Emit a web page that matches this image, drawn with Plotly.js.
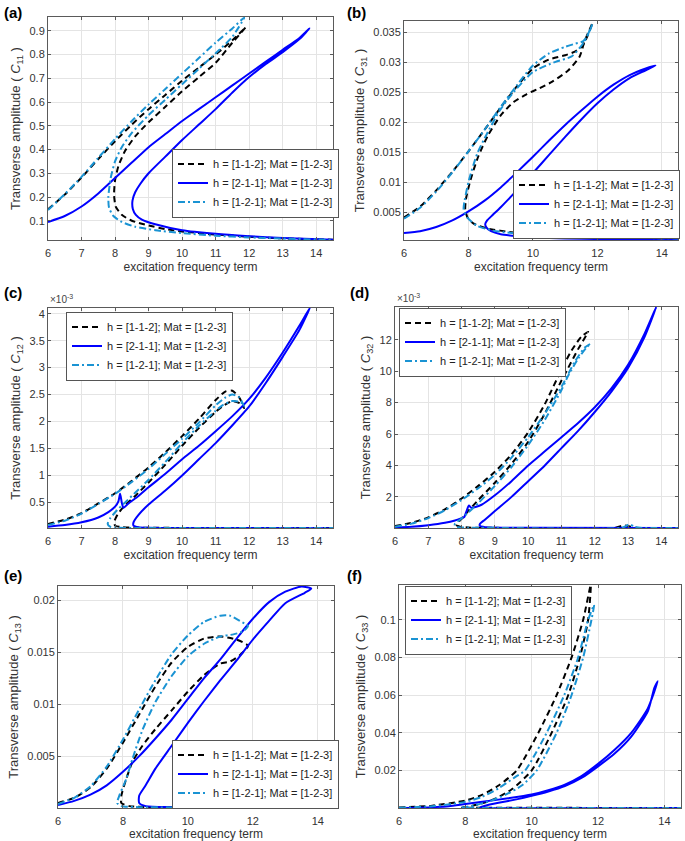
<!DOCTYPE html>
<html><head><meta charset="utf-8">
<script src="https://cdn.plot.ly/plotly-3.0.1.min.js"></script>
<style>html,body{margin:0;padding:0;background:#fff;} #chart{width:685px;height:841px;}</style>
</head><body><div id="chart"></div>
<script>
// ---------- DATA ----------
const seriesNames = ["h = [1-1-2]; Mat = [1-2-3]", "h = [2-1-1]; Mat = [1-2-3]", "h = [1-2-1]; Mat = [1-2-3]"];
const panelLabels = ["(a)", "(b)", "(c)", "(d)", "(e)", "(f)"];
const ySymbols = ["11", "31", "12", "32", "13", "33"];
const xTicksFine = [6, 7, 8, 9, 10, 11, 12, 13, 14];
const xTicksCoarse = [6, 8, 10, 12, 14];
const yTicksA = ["0.1","0.2","0.3","0.4","0.5","0.6","0.7","0.8","0.9"];
const yTicksB = ["0.005","0.01","0.015","0.02","0.025","0.03","0.035"];
const yTicksC = ["0.5","1","1.5","2","2.5","3","3.5","4"];
const yTicksD = ["2","4","6","8","10","12"];
const yTicksE = ["0.005","0.01","0.015","0.02"];
const yTicksF = ["0.02","0.04","0.06","0.08","0.1"];

// (a) C11
const a_x112 = [6,6.5,7,7.5,8,8.5,9,9.5,10,10.5,11,11.5,11.9, 11.5,11,10.5,10,9.5,9,8.6,8.3,8.1,8.0,7.97,8.02,8.2,8.5,9,9.5,10,11,12,13,14.5];
const a_y112 = [0.148,0.21,0.282,0.36,0.435,0.505,0.57,0.63,0.69,0.745,0.80,0.86,0.915, 0.85,0.765,0.705,0.645,0.58,0.515,0.455,0.395,0.33,0.27,0.21,0.16,0.125,0.1,0.08,0.065,0.055,0.042,0.033,0.026,0.02];
const a_x211 = [6,6.5,7,7.5,8,8.5,9,9.5,10,10.5,11,11.5,12,12.5,13,13.5,13.8, 13.5,13,12.5,12,11.5,11,10.5,10,9.5,9,8.75,8.6,8.52,8.53,8.62,8.8,9.2,10,11,12,13,14.5];
const a_y211 = [0.095,0.12,0.16,0.215,0.28,0.345,0.41,0.465,0.52,0.57,0.62,0.67,0.72,0.77,0.82,0.87,0.91, 0.865,0.81,0.76,0.705,0.64,0.57,0.505,0.44,0.37,0.30,0.255,0.22,0.185,0.15,0.125,0.105,0.085,0.06,0.045,0.035,0.027,0.02];
const a_x121 = [6,6.5,7,7.5,8,8.5,9,9.5,10,10.5,11,11.5,11.85, 11.5,11,10.5,10,9.5,9,8.5,8.2,8.0,7.87,7.8,7.82,7.95,8.2,8.6,9.2,10,11,12,13,14.5];
const a_y121 = [0.145,0.212,0.285,0.365,0.445,0.52,0.59,0.655,0.72,0.785,0.85,0.91,0.955, 0.875,0.805,0.74,0.675,0.61,0.545,0.47,0.41,0.35,0.28,0.2,0.155,0.12,0.095,0.075,0.06,0.048,0.037,0.03,0.025,0.019];

// (b) C31
const b_x112 = [6,6.5,7,7.5,8,8.5,9,9.5,10,10.5,11,11.3,11.55,11.7,11.85, 11.6,11.45,11.1,10.6,10.2,9.8,9.4,9.0,8.6,8.3,8.05,7.92,7.9,7.97,8.15,8.55,9.4,10.2,11.2,12.5,14.5];
const b_y112 = [0.0042,0.006,0.0087,0.0118,0.0152,0.0188,0.0225,0.026,0.029,0.0305,0.0312,0.0318,0.0328,0.0345,0.0366, 0.0335,0.031,0.0287,0.0268,0.0257,0.0247,0.0234,0.0212,0.0178,0.0143,0.0102,0.0072,0.0055,0.0042,0.0032,0.0024,0.0017,0.0014,0.0011,0.0009,0.0007];
const b_x211 = [6,6.5,7,7.5,8,8.5,9,9.5,10,10.5,11,11.5,12,12.5,13,13.5,13.8, 13.5,13,12.5,12,11.5,11,10.5,10,9.5,9,8.75,8.58,8.52,8.56,8.7,9,9.5,10,11,12,13,14.5];
const b_y211 = [0.0016,0.0019,0.0026,0.0037,0.0052,0.007,0.0092,0.0117,0.0143,0.017,0.0196,0.022,0.0243,0.0263,0.0279,0.029,0.0295, 0.0287,0.0274,0.0255,0.0232,0.0205,0.0176,0.0146,0.0116,0.0087,0.0059,0.0046,0.0037,0.0031,0.0025,0.0019,0.0014,0.0011,0.0009,0.0007,0.0006,0.0005,0.00045];
const b_x121 = [6,6.5,7,7.5,8,8.5,9,9.5,10,10.5,11,11.3,11.55,11.7,11.85, 11.6,11.2,10.7,10,9.36,8.97,8.57,8.27,8.01,7.88,7.85,7.96,8.27,8.77,10,12,14.5];
const b_y121 = [0.004,0.0058,0.0085,0.0117,0.0152,0.0188,0.0226,0.0262,0.0295,0.0315,0.0326,0.0331,0.0335,0.0345,0.0365, 0.0335,0.031,0.0301,0.0284,0.0248,0.022,0.0181,0.0148,0.0103,0.007,0.0056,0.0042,0.0028,0.002,0.0013,0.0009,0.0007];

// (c) C12, in units of 1e-3
const c_x112 = [6,6.5,7,7.5,8,8.5,9,9.5,10,10.5,11,11.3,11.5,11.7,11.85, 11.75,11.5,11.2,11,10.5,10,9.5,9,8.6,8.3,8.1,7.98,8.0,8.2,8.6,10,14.5];
const c_y112 = [0.1,0.18,0.3,0.48,0.67,0.9,1.15,1.43,1.73,2.05,2.4,2.56,2.57,2.45,2.25, 2.33,2.38,2.28,2.18,1.88,1.55,1.2,0.87,0.62,0.45,0.3,0.15,0.07,0.04,0.03,0.027,0.025];
const c_x211 = [6,6.5,7,7.5,7.8,8.0,8.1,8.15,8.2,8.25,8.4,8.7,9,9.5,10,10.5,11,11.5,12,12.5,13,13.5,13.82, 13.5,13,12.5,12,11.5,11,10.5,10,9.5,9,8.7,8.55,8.55,8.7,9,10,14.5];
const c_y211 = [0.05,0.08,0.13,0.22,0.32,0.42,0.52,0.66,0.5,0.4,0.48,0.62,0.78,1.03,1.3,1.55,1.82,2.1,2.42,2.82,3.28,3.78,4.12, 3.7,3.2,2.72,2.28,1.93,1.6,1.3,1.0,0.72,0.46,0.27,0.13,0.07,0.04,0.03,0.025,0.022];
const c_x121 = [6,6.5,7,7.5,8,8.5,9,9.5,10,10.5,11,11.3,11.5,11.7,11.85, 11.75,11.5,11.2,11,10.5,10,9.5,9,8.6,8.3,8.05,7.85,7.78,7.85,8.1,9,14.5];
const c_y121 = [0.08,0.16,0.29,0.47,0.66,0.88,1.12,1.4,1.68,1.98,2.3,2.45,2.5,2.45,2.28, 2.36,2.38,2.3,2.2,1.92,1.6,1.25,0.92,0.68,0.5,0.35,0.2,0.1,0.05,0.03,0.027,0.025];

// (d) C32, in units of 1e-3
const d_x112 = [6,6.5,7,7.5,8,8.5,9,9.5,10,10.5,11,11.3,11.6,11.8, 11.75,11.5,11.2,11,10.5,10,9.5,9,8.5,8.2,8.0,7.88,7.85,7.95,8.2,9,12.6,12.85,13.0,13.2,14.5];
const d_y112 = [0.15,0.35,0.7,1.2,1.9,2.7,3.6,4.7,6.1,7.9,10.1,11.3,12.2,12.5, 12.3,11.4,10.2,9.4,7.3,5.5,4.1,2.9,1.8,1.1,0.6,0.35,0.2,0.1,0.05,0.03,0.03,0.18,0.15,0.04,0.02];
const d_x211 = [6,6.5,7,7.5,7.8,8.0,8.08,8.15,8.22,8.3,8.6,9,9.5,10,10.5,11,11.5,12,12.5,13,13.5,13.85, 13.5,13,12.5,12,11.5,11,10.5,10,9.5,9,8.7,8.55,8.55,8.7,9,10,14.5];
const d_y211 = [0.05,0.1,0.2,0.35,0.5,0.65,0.72,1.1,1.45,1.3,1.5,2.1,3.0,4.0,4.9,5.8,6.7,7.7,8.9,10.4,12.4,14.1, 12.2,10.2,8.7,7.4,6.2,5.1,4.0,3.0,2.0,1.1,0.55,0.28,0.15,0.07,0.04,0.03,0.02];
const d_x121 = [6,6.5,7,7.5,8,8.5,9,9.5,10,10.5,11,11.4,11.7,11.88, 11.75,11.5,11.2,11,10.5,10,9.5,9,8.5,8.2,7.95,7.8,7.8,7.9,8.2,9,12.8,13.05,13.2,13.35,14.5];
const d_y121 = [0.1,0.3,0.65,1.15,1.8,2.55,3.4,4.5,5.8,7.3,9.0,10.6,11.5,11.75, 11.5,10.8,9.7,8.8,6.9,5.3,3.9,2.7,1.6,1.0,0.55,0.3,0.15,0.07,0.04,0.03,0.03,0.25,0.1,0.03,0.02];

// (e) C13
const e_x112 = [6,6.5,7,7.5,8,8.5,9,9.5,10,10.5,11,11.5,11.85, 11.6,11.3,11,10.5,10,9.5,9,8.6,8.3,8.1,7.95,7.95,8.2,9,14.5];
const e_y112 = [0.0005,0.001,0.002,0.0038,0.0063,0.009,0.0117,0.014,0.0155,0.0163,0.0165,0.0162,0.0156, 0.0147,0.0141,0.0139,0.0128,0.0112,0.0094,0.0076,0.006,0.0045,0.0028,0.0012,0.0005,0.0002,0.0001,0.0001];
const e_x211 = [6,6.5,7,7.5,8,8.5,9,9.5,10,10.5,11,11.5,12,12.5,13,13.5,13.8, 13.6,13,12.5,12,11.5,11,10.5,10,9.5,9,8.7,8.5,8.5,8.7,9.5,14.5];
const e_y211 = [0.0003,0.0007,0.0013,0.0022,0.0035,0.005,0.0067,0.0085,0.0105,0.0125,0.0143,0.0163,0.0182,0.0198,0.0208,0.0213,0.0211, 0.0207,0.0197,0.018,0.0162,0.0142,0.0123,0.0103,0.0082,0.006,0.0038,0.0022,0.0012,0.0005,0.0002,0.0001,0.00005];
const e_x121 = [6,6.5,7,7.5,8,8.5,9,9.5,10,10.5,11,11.3,11.6,11.85, 11.7,11.4,11,10.5,10,9.5,9,8.6,8.3,8.1,7.9,7.82,7.95,8.5,14.5];
const e_y121 = [0.0004,0.001,0.0021,0.004,0.0066,0.0095,0.0123,0.0148,0.0166,0.0179,0.0185,0.0185,0.018,0.0175, 0.017,0.0167,0.0165,0.0158,0.0146,0.0127,0.0102,0.0075,0.0048,0.0028,0.0013,0.0005,0.0002,0.0001,0.0001];

// (f) C33
const f_x112 = [6,7,8,8.5,9,9.55,10.2,10.75,11.2,11.55,11.78, 11.7,11.45,11.1,10.6,10.0,9.4,8.9,8.4,8.0,7.9,8.2,14.5];
const f_y112 = [0.0003,0.0013,0.004,0.007,0.012,0.02,0.04,0.06,0.08,0.1,0.1186, 0.1,0.08,0.06,0.04,0.02,0.01,0.005,0.002,0.0005,0.0003,0.0002,0.0001];
const f_x211 = [6,7,7.5,8,9,10,10.5,11,11.5,12,12.5,13,13.5,13.8, 13.7,13.5,13,12.5,12,11.5,11,10.5,10,9.5,9,8.6,8.45,8.7,14.5];
const f_y211 = [0.0001,0.0005,0.001,0.0022,0.0045,0.0072,0.0095,0.0125,0.017,0.0235,0.031,0.04,0.053,0.0675, 0.064,0.0515,0.038,0.029,0.0222,0.016,0.0117,0.0088,0.0065,0.0045,0.0028,0.0013,0.0005,0.0001,0.0001];
const f_x121 = [6,7,8,8.5,9,9.5,9.8,10.45,10.98,11.4,11.7,11.88, 11.8,11.55,11.2,10.75,10.15,9.7,9.2,8.7,8.3,8.0,7.85,8.5,14.5];
const f_y121 = [0.0002,0.001,0.0033,0.006,0.0105,0.0165,0.02,0.04,0.06,0.08,0.1,0.108, 0.1,0.08,0.06,0.04,0.02,0.012,0.007,0.0035,0.0015,0.0005,0.0002,0.0001,0.0001];

// ---------- CHART ----------
const W = 685, H = 841;
const panels = [
  {xs:[a_x112,a_x211,a_x121], ys:[a_y112,a_y211,a_y121], box:[48,333,17,240], yr:[0.019,0.958], yt:yTicksA, xt:xTicksFine, leg:[172,183], lab:[2,12]},
  {xs:[b_x112,b_x211,b_x121], ys:[b_y112,b_y211,b_y121], box:[404,678,21,240], yr:[0.00044,0.0369], yt:yTicksB, xt:xTicksCoarse, leg:[513,204], lab:[345,12]},
  {xs:[c_x112,c_x211,c_x121], ys:[c_y112,c_y211,c_y121], box:[48,333,308,528], yr:[0.025,4.106], yt:yTicksC, xt:xTicksFine, leg:[66,346], lab:[2,292], exp:true},
  {xs:[d_x112,d_x211,d_x121], ys:[d_y112,d_y211,d_y121], box:[395,678,307,528], yr:[0.02,14.08], yt:yTicksD, xt:xTicksFine, leg:[399,342], lab:[348,292], exp:true},
  {xs:[e_x112,e_x211,e_x121], ys:[e_y112,e_y211,e_y121], box:[58,334,586,808], yr:[0.00002,0.02135], yt:yTicksE, xt:xTicksCoarse, leg:[172,774], lab:[2,575]},
  {xs:[f_x112,f_x211,f_x121], ys:[f_y112,f_y211,f_y121], box:[399,681,585,808], yr:[0.00005,0.1186], yt:yTicksF, xt:xTicksCoarse, leg:[405,620], lab:[345,575]}
];
const styles = [
  {color:'#000000', dash:'6px,4px', width:2},
  {color:'#0000ff', dash:'solid', width:2},
  {color:'#1a93d3', dash:'7px,3px,2px,3px', width:2}
];
const FONT = 'Liberation Sans, Arial, sans-serif';
const data = [];
const layout = {
  width: W, height: H, margin:{l:0,r:0,t:0,b:0},
  paper_bgcolor:'#fff', plot_bgcolor:'#fff',
  font:{family:FONT, size:11, color:'#333'},
  showlegend:true, annotations:[]
};
panels.forEach((p, i) => {
  const n = i + 1;
  const sfx = n === 1 ? '' : String(n);
  for (let s = 0; s < 3; s++) {
    data.push({
      type:'scatter', mode:'lines', x:p.xs[s], y:p.ys[s],
      xaxis:'x'+sfx, yaxis:'y'+sfx,
      name: seriesNames[s], legend:'legend'+sfx,
      line:{color:styles[s].color, dash:styles[s].dash, width:styles[s].width, shape:'spline', smoothing:0.6}
    });
  }
  const [x0,x1,y0,y1] = p.box;
  const common = {
    showgrid:true, gridcolor:'#e4e4e4', gridwidth:1, zeroline:false,
    showline:true, mirror:'ticks', linecolor:'#5a5a5a', linewidth:1,
    ticks:'inside', ticklen:3, tickcolor:'#5a5a5a', automargin:false,
    tickfont:{family:FONT, size:11, color:'#333'}
  };
  layout['xaxis'+sfx] = Object.assign({}, common, {
    domain:[x0/W, x1/W], range:[6,14.5], anchor:'y'+sfx,
    tickvals:p.xt, ticktext:p.xt.map(String), ticklabelstandoff:3,
    title:{text:'excitation frequency term', font:{family:FONT, size:12, color:'#333'}, standoff:4}
  });
  layout['yaxis'+sfx] = Object.assign({}, common, {
    domain:[1-y1/H, 1-y0/H], range:p.yr, anchor:'x'+sfx,
    tickvals:p.yt.map(Number), ticktext:p.yt,
    title:{text:'Transverse amplitude ( <i>C</i><sub>'+ySymbols[i]+'</sub> )', font:{family:FONT, size:13, color:'#333'}, standoff:5}
  });
  layout['legend'+sfx] = {
    x:p.leg[0]/W, y:1-p.leg[1]/H, xanchor:'left', yanchor:'middle',
    xref:'paper', yref:'paper',
    bgcolor:'#ffffff', bordercolor:'#555', borderwidth:1,
    font:{family:FONT, size:11, color:'#222'}, itemwidth:30, tracegroupgap:0
  };
  layout.annotations.push({
    xref:'paper', yref:'paper', x:p.lab[0]/W, y:1-p.lab[1]/H, xanchor:'left', yanchor:'middle',
    text:'<b>'+panelLabels[i]+'</b>', showarrow:false, font:{family:FONT, size:15, color:'#000'}
  });
  if (p.exp) {
    layout.annotations.push({
      xref:'paper', yref:'paper', x:x0/W, y:1-(y0-1)/H, xanchor:'left', yanchor:'bottom',
      text:'×10<sup>-3</sup>', showarrow:false, font:{family:FONT, size:10, color:'#444'}
    });
  }
});
Plotly.newPlot('chart', data, layout, {staticPlot:true});
</script></body></html>
